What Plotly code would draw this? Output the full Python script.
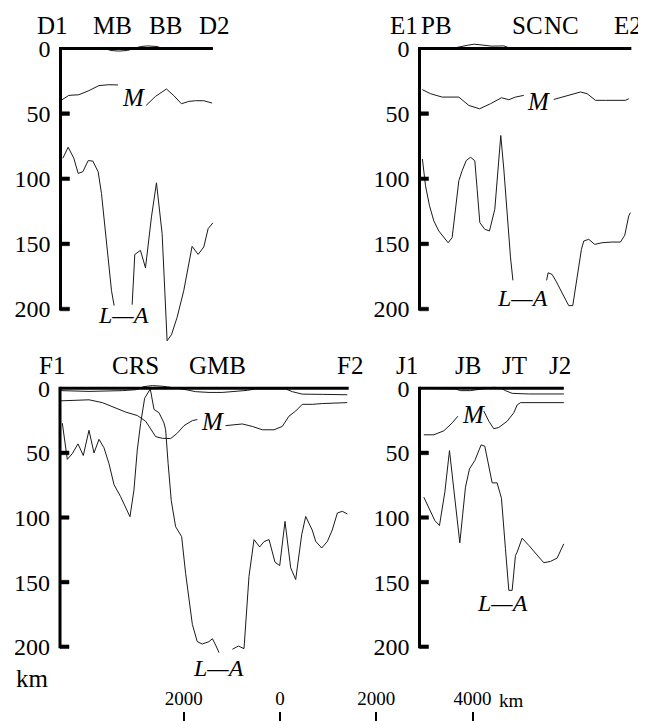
import plotly.graph_objects as go

# ---------------- data (km along profile, depth km) ----------------
# Profile D1-D2
d_names = ["D1", "MB", "BB", "D2"]
d_names_x = [-160, 1080, 2181, 3198]
d_topo_x = [0, 935, 1038, 1205, 1391, 1516, 1661, 1807, 2015, 2139, 2285, 3165]
d_topo_z = [0, 0, 1.5, 2, 1.5, 0, -1.5, -2, -1.5, 0.5, 0, 0]
d_moho_x = [0, 173, 381, 588, 796, 1003, 1197, None, 1778, 1972, 2200, 2353, 2512, 2664, 2803, 2976, 3149]
d_moho_z = [40.1, 36, 35.5, 32.4, 28.5, 27.8, 28.0, None, 43.7, 36.8, 31.1, 36.2, 42.4, 40.6, 40.1, 40.1, 41.9]
d_la_x = [48, 159, 277, 367, 464, 574, 671, 782, 851, 920, 990, 1059, 1114, None,
          1488, 1543, 1661, 1765, 1889, 1993, 2111, 2214, 2304, 2422, 2560, 2733, 2858, 2976, 3066, 3163]
d_la_z = [84.3, 75.8, 84.3, 95.9, 94.6, 86.1, 86.4, 94.6, 111.3, 137.0, 165.3, 185.9, 197.4, None,
          196.7, 158.1, 155.0, 168.4, 129.3, 103.1, 142.2, 224.4, 219.8, 206.4, 185.9, 151.9, 158.1, 152.4, 138.3, 133.9]

# Profile E1-E2
e_names = ["E1", "PB", "SC", "NC", "E2"]
e_names_x = [-315, 350, 2253, 2939, 4320]
e_topo_x = [720, 800, 1000, 1130, 1300, 1500, 1750, 1900]
e_topo_z = [0, -1, -2.5, -3.3, -2.7, -1.8, -2, 0]
e_moho_x = [60, 228, 471, 644, 817, 1024, 1246, 1474, 1703, 1855, 1993, 2166, None,
            2789, 3066, 3343, 3481, 3654, 3862, 4069, 4277, 4346]
e_moho_z = [31.6, 34.7, 37.3, 37.3, 37.3, 43.7, 46.3, 42.4, 37.8, 39.3, 37.3, 36.0, None,
            39.1, 36.0, 33.4, 34.7, 39.8, 39.8, 39.8, 39.8, 38.6]
e_la_x = [60, 125, 208, 298, 401, 505, 595, 678, 761, 817, 886, 969, 1059, 1149, 1197, 1253, 1356, 1453,
          1564, 1612, 1688, 1751, 1820, 1889, 1940, None,
          2640, 2671, 2754, 2837, 2962, 3100, 3183, 3273, 3363, 3412, 3515, 3640, 3792, 4000, 4173, 4263, 4346, 4380]
e_la_z = [84.8, 105.4, 120.8, 132.4, 140.1, 145.2, 149.1, 145.2, 120.8, 101.5, 93.8, 86.1, 83.5, 86.1, 108,
          133.7, 138.8, 140.1, 123.4, 102.8, 66.8, 92.5, 128.5, 160, 178, None,
          178, 172.2, 173.5, 178.7, 187.7, 197.4, 197.4, 174.8, 154.2, 147.8, 146.5, 150.4, 149.1, 148.6,
          148.6, 143.4, 128.5, 126]

# Profile F1-F2
f_names = ["F1", "CRS", "GMB", "F2"]
f_names_x = [-172, 1572, 3275, 6017]
f_topo_x = [15, 603, 1295, 1572, 1745, 1918, 2125, 2332, 2540, 2817, 3094, 3371, 3648, 3890, 4063,
            4686, 4824, 5032, 5447, 5966]
f_topo_z = [1.8, 2.4, 1.8, 1.1, -1.3, -2.1, -1.6, -0.5, 0.5, 2.6, 3.2, 3.2, 2.6, 1.6, 0.5,
            0.5, 2.6, 4.5, 4.7, 5]
f_moho_x = [15, 326, 603, 880, 1122, 1364, 1607, 1780, 1987, 2125, 2298, 2437, 2575, 2748, 2852, None,
            3440, 3579, 3786, 3994, 4201, 4444, 4617, 4755, 4894, 5032, 5240, 5447, 5966]
f_moho_z = [9.7, 9.2, 8.9, 11.1, 15, 18.4, 21.1, 25.5, 37.4, 38.7, 38.9, 34.7, 28.9, 25, 24.2, None,
            28.9, 28.2, 27.6, 29.5, 32.1, 32.1, 29.5, 21.6, 17.6, 12.4, 12.4, 11.8, 11.1]
f_la_x = [48, 152, 256, 374, 484, 602, 706, 810, 913, 1017, 1121, 1259, 1453, 1536, 1605, 1675, 1758,
          1875, 1952, 2056, 2159, 2194, 2245, 2285, 2311, 2401, 2526, 2609, 2678, 2749, 2851, 2955,
          3093, 3165, 3232, 3303, None,
          3580, 3612, 3705, 3822, 3925, 4029, 4147, 4235, 4341, 4466, 4563, 4673, 4791, 4895, 5020,
          5103, 5238, 5311, 5435, 5553, 5654, 5761, 5865, 5969]
f_la_z = [27, 55, 50.5, 43, 52, 32.5, 50, 39.5, 46, 58.3, 74.5, 83.9, 99.4, 78.7, 47.7, 27.1, 7.7,
          0.5, 16.3, 18.9, 26.8, 32, 58, 78, 87, 107.1, 114.8, 143.2, 163.9, 182.8, 196.1, 197.9,
          196.1, 193.8, 198.7, 204.6, None,
          202, 201.3, 199.5, 201.5, 145.5, 117.1, 122.8, 118.7, 117.1, 134.7, 137.2, 103, 139, 148, 113.3,
          99.2, 109.7, 118.5, 123.6, 118.5, 109.7, 96.5, 95.2, 97.3]

# Profile J1-J2
j_names = ["J1", "JB", "JT", "J2"]
j_names_x = [-265, 997, 1973, 2928]
j_topo_x = [0, 609, 747, 851, 1059, 1301, 1543, 1682, 1785, 1924, 2270, 2997]
j_topo_z = [0, 0, 0.5, 1.8, 1.8, 0.5, -0.8, -0.3, 1.8, 3.9, 4.4, 4.4]
j_moho_x = [90, 298, 505, 678, 797, None, 1336, 1440, 1543, 1647, 1820, 1959, 2028, 2098, 2997]
j_moho_z = [36, 36, 32.9, 26.8, 21.6, None, 17.6, 25.5, 31.3, 30.3, 25.5, 18.9, 12.9, 11.1, 11.1]
j_la_x = [90, 228, 318, 415, 526, 623, 734, 837, 955, 1038, 1149, 1280, 1356, 1439, 1509, 1612, 1702,
          1785, 1855, 1924, 1993, 2028, 2131, 2270, 2443, 2581, 2720, 2858, 2996]
j_la_z = [84.3, 95.9, 102.3, 106.2, 80.4, 48.2, 88.1, 119.6, 76.5, 62.4, 55.9, 43.8, 44.8, 59.8, 73.2,
          73.2, 85.1, 124.2, 156.4, 156.4, 129.4, 126.8, 116, 121.6, 129.4, 135, 134, 131.4, 120.4]

# curve label positions (km, depth)
m_label_pos = [(1516, 38), (2471, 41), (3171, 26), (1121, 20.6)]
la_label_pos = [(1308, 204.6), (2139, 191.6), (3296, 216.5), (1724, 166)]

depth_ticks = [0, 50, 100, 150, 200]
scale_ticks = [-2000, 0, 2000, 4000]
scale_text = ["2000", "0", "2000", "4000"]

# ---------------- layout geometry ----------------
W, H = 646, 721
OFF = 8  # page body margin of the html page
FONT = "Liberation Serif"
KPX = 0.04815  # px per km along profile
TICK_KM = 9.0 / KPX  # inward tick length (9 px) expressed along the profile axis


def fx(px):
    return (px - OFF) / W


def fy(py):
    return 1 - (py - OFF) / H


panels = [
    dict(names=d_names, nx=d_names_x, tx=d_topo_x, tz=d_topo_z, mx=d_moho_x, mz=d_moho_z,
         lx=d_la_x, lz=d_la_z, x0=60.5, length=3165, top=True),
    dict(names=e_names, nx=e_names_x, tx=e_topo_x, tz=e_topo_z, mx=e_moho_x, mz=e_moho_z,
         lx=e_la_x, lz=e_la_z, x0=419.5, length=4400, top=True),
    dict(names=f_names, nx=f_names_x, tx=f_topo_x, tz=f_topo_z, mx=f_moho_x, mz=f_moho_z,
         lx=f_la_x, lz=f_la_z, x0=60.0, length=5996, top=False),
    dict(names=j_names, nx=j_names_x, tx=j_topo_x, tz=j_topo_z, mx=j_moho_x, mz=j_moho_z,
         lx=j_la_x, lz=j_la_z, x0=419.5, length=2997, top=False),
]

fig = go.Figure()
layout = dict(width=W, height=H, margin=dict(l=0, r=0, t=0, b=0), autosize=False,
              plot_bgcolor="rgba(0,0,0,0)", paper_bgcolor="white", showlegend=False,
              font=dict(family=FONT, size=24, color="black"))
shapes = []
annotations = []
XMIN, XPAD = -400, 300

for i, p in enumerate(panels):
    n = i + 1
    xs = "x" if n == 1 else f"x{n}"
    ys = "y" if n == 1 else f"y{n}"
    xk = "xaxis" if n == 1 else f"xaxis{n}"
    yk = "yaxis" if n == 1 else f"yaxis{n}"
    if p["top"]:
        py0, sc, dmin, dmax = 48.5, 1.3025, -25, 235
    else:
        py0, sc, dmin, dmax = 388.3, 1.292, -25, 225
    ytop = py0 + sc * dmin
    ybot = py0 + sc * dmax
    xmax = p["length"] + XPAD
    xl = p["x0"] + XMIN * KPX
    xr = p["x0"] + xmax * KPX
    layout[xk] = dict(domain=[fx(xl), fx(xr)], range=[XMIN, xmax], visible=False,
                      anchor=ys, fixedrange=True)
    layout[yk] = dict(domain=[fy(ybot), fy(ytop)], range=[dmax, dmin],
                      anchor="free", position=fx(p["x0"]), side="left",
                      showgrid=False, zeroline=False, showline=False, fixedrange=True,
                      tickmode="array", tickvals=depth_ticks, ticktext=[str(t) for t in depth_ticks],
                      ticks="", ticklabelstandoff=10,
                      tickfont=dict(family=FONT, size=24, color="black"))
    for xx, zz in ((p["tx"], p["tz"]), (p["mx"], p["mz"]), (p["lx"], p["lz"])):
        fig.add_trace(go.Scatter(x=xx, y=zz, mode="lines", xaxis=xs, yaxis=ys,
                                 line=dict(color="#1a1a1a", width=1), connectgaps=False,
                                 hoverinfo="skip"))
    # axis frame: top line at depth 0 and left line 0..200
    shapes.append(dict(type="line", xref=xs, yref=ys, x0=0, x1=p["length"], y0=0, y1=0,
                       line=dict(color="black", width=3)))
    shapes.append(dict(type="line", xref=xs, yref=ys, x0=0, x1=0, y0=-1.2, y1=201.2,
                       line=dict(color="black", width=3)))
    # inward tick marks of the depth axis (built from the tick list)
    for t in depth_ticks[1:]:
        shapes.append(dict(type="rect", xref=xs, yref=ys, x0=0, x1=TICK_KM,
                           y0=t - 1.4, y1=t + 1.4, fillcolor="black",
                           line=dict(color="black", width=0.5), layer="above"))
    for name, nxv in zip(p["names"], p["nx"]):
        annotations.append(dict(x=nxv, y=-18, xref=xs, yref=ys, text=name, showarrow=False,
                                xanchor="center", yanchor="middle",
                                font=dict(family=FONT, size=25, color="black")))
    mx_, mz_ = m_label_pos[i]
    annotations.append(dict(x=mx_, y=mz_, xref=xs, yref=ys, text="<i>M</i>", showarrow=False,
                            xanchor="center", yanchor="middle",
                            font=dict(family=FONT, size=25, color="black")))
    lx_, lz_ = la_label_pos[i]
    annotations.append(dict(x=lx_, y=lz_, xref=xs, yref=ys, text="<i>L—A</i>", showarrow=False,
                            xanchor="center", yanchor="middle",
                            font=dict(family=FONT, size=24, color="black")))

# scale bar axis
zero_px = 280.0
layout["xaxis5"] = dict(domain=[0, 1], range=[-(zero_px - OFF) / KPX, (W + OFF - zero_px) / KPX],
                        anchor="y5", side="top", showgrid=False, zeroline=False, showline=False,
                        tickmode="array", tickvals=scale_ticks, ticktext=scale_text,
                        ticks="inside", ticklen=10, tickwidth=2, tickcolor="black",
                        ticklabelstandoff=2, tickfont=dict(family=FONT, size=19, color="black"),
                        fixedrange=True)
layout["yaxis5"] = dict(domain=[0, fy(712)], range=[0, 1], visible=False, anchor="x5")
fig.add_trace(go.Scatter(x=[None], y=[None], xaxis="x5", yaxis="y5", mode="lines", hoverinfo="skip"))

annotations.append(dict(x=(497 - zero_px) / KPX, y=fy(700), xref="x5", yref="paper", text="km",
                        showarrow=False, xanchor="left", yanchor="middle",
                        font=dict(family=FONT, size=19, color="black")))
annotations.append(dict(x=fx(32), y=fy(678), xref="paper", yref="paper", text="km",
                        showarrow=False, xanchor="center", yanchor="middle",
                        font=dict(family=FONT, size=25, color="black")))

layout["shapes"] = shapes
layout["annotations"] = annotations
fig.update_layout(**layout)
fig.write_html("out.html")
